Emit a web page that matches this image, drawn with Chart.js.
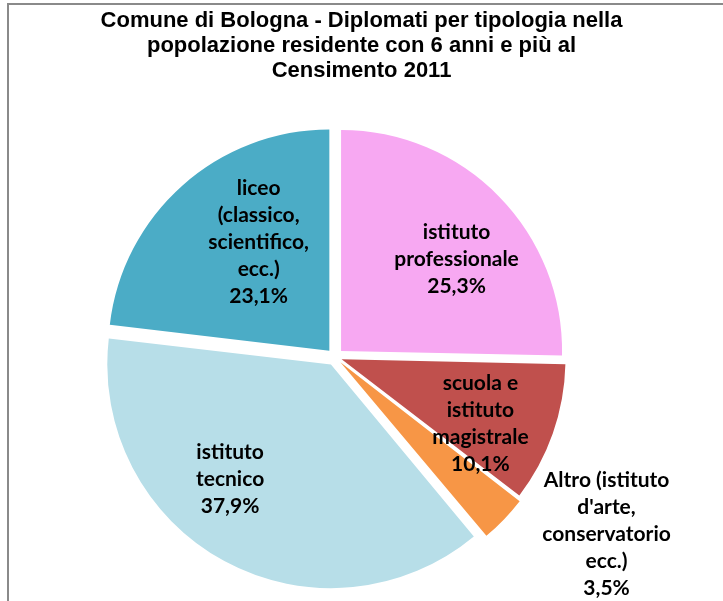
<!DOCTYPE html>
<html>
<head>
<meta charset="utf-8">
<script src="https://cdn.jsdelivr.net/npm/chart.js@4.4.0/dist/chart.umd.min.js"></script>
<style>
  html, body { margin: 0; padding: 0; background: #fff; }
  #wrap { position: relative; width: 723px; height: 601px; overflow: hidden; }
  #frame { position: absolute; left: 7px; top: 3px; width: 800px; height: 700px;
           border-top: 2px solid #8a8a8a; border-left: 2px solid #8a8a8a; }
  #chart { position: absolute; left: 0; top: 0; }
</style>
</head>
<body>
<div id="wrap">
  <div id="frame"></div>
  <canvas id="chart" width="723" height="601"></canvas>
</div>
<script>
// Dati: diplomati per tipologia (percentuali)
const categories = [
    ['istituto', 'professionale'],
    ['scuola e', 'istituto', 'magistrale'],
    ['Altro (istituto', "d'arte,", 'conservatorio', 'ecc.)'],
    ['istituto', 'tecnico'],
    ['liceo', '(classico,', 'scientifico,', 'ecc.)']
];
const percentages = [25.3, 10.1, 3.5, 37.9, 23.1];
const sliceColors = ['#F7A8F2', '#C0504D', '#F79646', '#B7DEE8', '#4BACC6'];

// posizione delle etichette: frazione del raggio e rotazione in gradi
const labelRadius = [0.706, 0.724, 1.468, 0.730, 0.624];
const labelTurn = [5.6, 5.3, -10.7, 12.1, 8.0];

function formatPercent(v) {
    return v.toFixed(1).replace('.', ',') + '%';
}

// sposta il centro della torta a sinistra (il titolo resta centrato)
const shiftPie = {
    id: 'shiftPie',
    afterLayout(chart) {
        chart.chartArea.right -= 53;
        chart.chartArea.width -= 53;
    }
};

// etichette dentro/fuori le fette
const sliceLabels = {
    id: 'sliceLabels',
    afterDatasetsDraw(chart) {
        const ctx = chart.ctx;
        const arcs = chart.getDatasetMeta(0).data;
        ctx.save();
        ctx.font = 'bold 21px Lato';
        ctx.fillStyle = '#000';
        ctx.textAlign = 'center';
        ctx.textBaseline = 'middle';
        arcs.forEach((arc, i) => {
            const p = arc.getProps(['x', 'y', 'startAngle', 'endAngle', 'outerRadius'], true);
            const mid = (p.startAngle + p.endAngle) / 2 + labelTurn[i] * Math.PI / 180;
            const cx = p.x + Math.cos(mid) * labelRadius[i] * p.outerRadius;
            const cy = p.y + Math.sin(mid) * labelRadius[i] * p.outerRadius;
            const lines = categories[i].concat([formatPercent(percentages[i])]);
            const lh = 27;
            let y = cy - (lines.length - 1) * lh / 2;
            lines.forEach(line => {
                ctx.fillText(line, cx, y);
                y += lh;
            });
        });
        ctx.restore();
    }
};

const ctx = document.getElementById('chart').getContext('2d');
const chart = new Chart(ctx, {
    type: 'pie',
    data: {
        labels: categories.map(c => c.join(' ')),
        datasets: [{
            data: percentages,
            backgroundColor: sliceColors,
            borderWidth: 0,
            offset: [34, 28, 30, 34, 34],
            clip: false
        }]
    },
    options: {
        responsive: false,
        devicePixelRatio: 1,
        animation: false,
        radius: 221,
        layout: { padding: 0 },
        plugins: {
            legend: { display: false },
            tooltip: { enabled: false },
            title: {
                display: true,
                text: ['Comune di Bologna - Diplomati per tipologia nella',
                       'popolazione residente con 6 anni e più al',
                       'Censimento 2011'],
                color: '#000',
                font: { family: 'Liberation Sans', size: 22, weight: 'bold', lineHeight: '25px' },
                padding: { top: 8.5, bottom: 29.5 }
            }
        }
    },
    plugins: [shiftPie, sliceLabels]
});
</script>
</body>
</html>
